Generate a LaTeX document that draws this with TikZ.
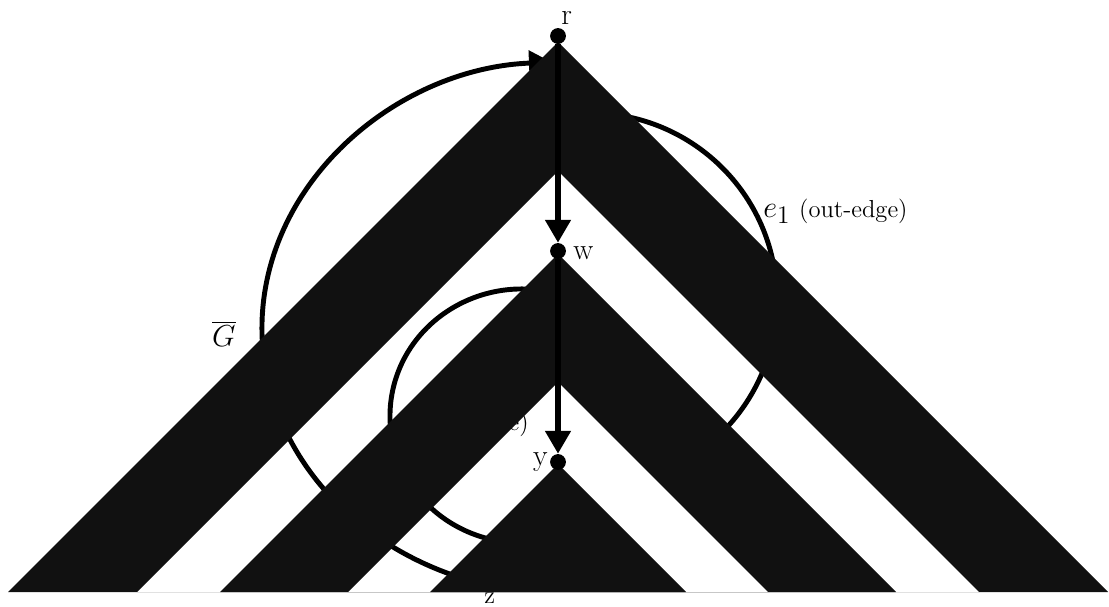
\documentclass[tikz,border=0pt]{standalone}
\usetikzlibrary{arrows.meta}

\begin{document}
\begin{tikzpicture}[x=0.02cm, y=0.02cm,
    vertex/.style={circle, fill=black, inner sep=0pt, minimum size=9pt},
    vertexLabel/.style={inner sep=0pt, font=\fontsize{17}{20}\selectfont},
    edgeLabel/.style={inner sep=0pt, font=\fontsize{19}{22}\selectfont},
    smallLabel/.style={inner sep=0pt, font=\fontsize{14}{16}\selectfont},
    edgeArc/.style={line width=2.8pt},
    treeArrow/.style={line width=3.2pt, -{Triangle[width=14pt,length=13pt]}}]

    % Middle line of the tree
    \def\midX{558}

    \definecolor{bandColour}{HTML}{111111}

    % Fix the frame
    \useasboundingbox (0,0) rectangle (1109,606);

    % Ends of the edges (hidden under the bands)
    \coordinate (z) at (486.6,21.1);
    \coordinate (e1Start) at (573.7,492.3);
    \coordinate (e2Start) at (544.9,315.1);

    % Draw the edges behind the tree
    \draw[edgeArc, -{Triangle[width=14pt,length=13pt]}] (z)
        arc[start angle=255, end angle=92.5, x radius=303, y radius=266];
    \draw[edgeArc] (e1Start) arc[start angle=95, end angle=-55, radius=187];
    \draw[edgeArc] (e2Start)
        arc[start angle=80, end angle=280, x radius=132, y radius=127];
    \node[smallLabel, anchor=base east] (e2Label) at (529,176) {e)};

    % Draw the nested bands
    \foreach \outer/\inner in {550/421, 338/210} {
        \fill[bandColour, even odd rule]
            (\midX-\outer,14) -- (\midX,14+\outer) -- (\midX+\outer,14) -- cycle
            (\midX-\inner,14) -- (\midX,14+\inner) -- (\midX+\inner,14) -- cycle;
    }
    \fill[bandColour] (\midX-128,14) -- (\midX,142) -- (\midX+128,14) -- cycle;

    % Vertices on the path
    \node[vertex] (r) at (\midX,570) {};
    \node[vertex] (w) at (\midX,355) {};
    \node[vertex] (y) at (\midX,144) {};
    \draw[treeArrow] (r) -- (w);
    \draw[treeArrow] (w) -- (y);

    % Labels
    \node[vertexLabel, anchor=base west] (rLabel) at (561,581) {r};
    \node[vertexLabel, anchor=base west] (wLabel) at (573,346) {w};
    \node[vertexLabel, anchor=base east] (yLabel) at (548,141) {y};
    \node[vertexLabel, anchor=base west, font=\fontsize{14}{16}\selectfont]
        (zLabel) at (484,3) {z};
    \node[edgeLabel, anchor=base east] (gLabel) at (236,260) {$\overline{G}$};
    \node[edgeLabel, anchor=base west] (e1Label) at (763,388)
        {$e_1$\hspace{5pt}{\fontsize{14}{16}\selectfont (out-edge)}};

\end{tikzpicture}
\end{document}
